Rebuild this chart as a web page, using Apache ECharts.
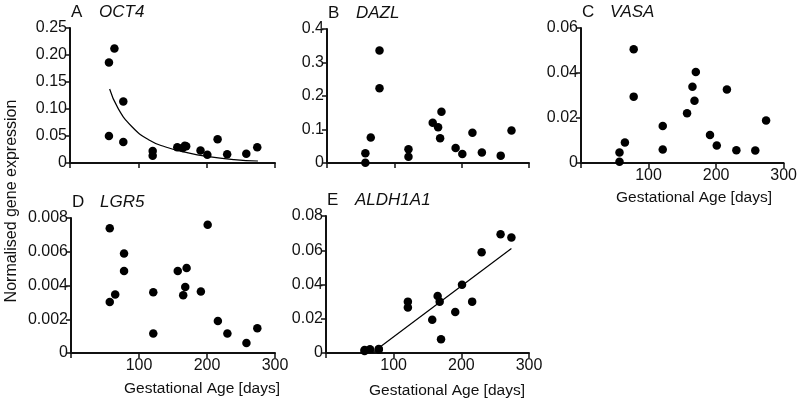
<!DOCTYPE html>
<html>
<head>
<meta charset="utf-8">
<script src="https://cdn.jsdelivr.net/npm/echarts@6/dist/echarts.min.js"></script>
<style>html,body{margin:0;padding:0;background:#fff;}#c{width:800px;height:402px;}</style>
</head>
<body>
<div id="c"></div>
<script>
// Gestational age (days) of the 17 samples
const ages = [57, 57, 65, 78, 78, 121, 121, 157, 165, 168, 170, 191, 201, 216, 230, 258, 274];
// Normalised gene expression per gene, aligned with ages
const oct4 = [0.186, 0.050, 0.212, 0.114, 0.039, 0.022, 0.0135, 0.029, 0.028, 0.032, 0.031, 0.023, 0.0154, 0.044, 0.016, 0.017, 0.029];
const dazl = [0.001, 0.029, 0.076, 0.336, 0.223, 0.041, 0.019, 0.120, 0.107, 0.074, 0.153, 0.045, 0.027, 0.090, 0.031, 0.022, 0.097];
const vasa = [0.0006, 0.0047, 0.0091, 0.0506, 0.0295, 0.0164, 0.0060, 0.0221, 0.0339, 0.0277, 0.0404, 0.0124, 0.0078, 0.0327, 0.0057, 0.0056, 0.0189];
const lgr5 = [0.00739, 0.00302, 0.00346, 0.00589, 0.00486, 0.00360, 0.00115, 0.00486, 0.00342, 0.00391, 0.00504, 0.00365, 0.00760, 0.00190, 0.00115, 0.00059, 0.00146];
const aldh1a1 = [0.0012, 0.0018, 0.0022, 0.0020, 0.0024, 0.0300, 0.0265, 0.0194, 0.0333, 0.0300, 0.0080, 0.0239, 0.0398, 0.0300, 0.0588, 0.0694, 0.0674];
// Fitted curves
const oct4FitX = [58, 70, 90, 115, 140, 170, 200, 240, 275];
const oct4FitY = [0.137, 0.102, 0.068, 0.043, 0.0296, 0.0196, 0.0123, 0.0062, 0.0037];
const aldhFitX = [68, 274];
const aldhFitY = [0, 0.061];
// Panels
const panelLetters = ['A', 'B', 'C', 'D', 'E'];
const geneNames = ['OCT4', 'DAZL', 'VASA', 'LGR5', 'ALDH1A1'];
const yMax = [0.25, 0.4, 0.06, 0.008, 0.08];
const yStep = [0.05, 0.1, 0.02, 0.002, 0.02];
const yDecimals = [2, 1, 2, 3, 2];
const xTicks = [0, 100, 200, 300];
const yTitle = 'Normalised gene expression';
const xTitle = 'Gestational Age [days]';

const values = [oct4, dazl, vasa, lgr5, aldh1a1];
const grids = [
  {left: 70, top: 28, width: 205, height: 135},
  {left: 327, top: 29, width: 202, height: 134},
  {left: 581, top: 28, width: 203, height: 135},
  {left: 71, top: 218, width: 204, height: 135},
  {left: 326, top: 216, width: 203, height: 137}
];
const FONT = '"Liberation Sans", Arial, sans-serif';
const INK = '#111';

const xAxes = [], yAxes = [], series = [], graphic = [];
grids.forEach((g, i) => {
  xAxes.push({
    gridIndex: i, type: 'value', min: xTicks[0], max: xTicks[xTicks.length - 1], interval: 100,
    splitLine: {show: false},
    axisLine: {lineStyle: {color: INK, width: 2}},
    axisTick: {show: true, length: 5, lineStyle: {color: INK, width: 1.5}},
    axisLabel: {show: i >= 2, color: INK, fontSize: 16, fontFamily: FONT, margin: 5,
      formatter: v => v === 0 ? '' : String(v)}
  });
  yAxes.push({
    gridIndex: i, type: 'value', min: 0, max: yMax[i], interval: yStep[i],
    splitLine: {show: false},
    axisLine: {show: true, lineStyle: {color: INK, width: 2}},
    axisTick: {show: true, length: 5, lineStyle: {color: INK, width: 1.5}},
    axisLabel: {color: INK, fontSize: 16, fontFamily: FONT, margin: 3,
      formatter: v => v === 0 ? '0' : v.toFixed(yDecimals[i])}
  });
  series.push({
    type: 'scatter', xAxisIndex: i, yAxisIndex: i, symbolSize: 8.5,
    itemStyle: {color: '#000', opacity: 1}, silent: true, z: 3,
    data: ages.map((a, k) => [a, values[i][k]])
  });
  graphic.push({type: 'text', x: g.left + 1, y: g.top - 16,
    style: {text: panelLetters[i], font: '17px ' + FONT, fill: INK, verticalAlign: 'middle'}});
  graphic.push({type: 'text', x: g.left + 29, y: g.top - 16,
    style: {text: geneNames[i], font: 'italic 17px ' + FONT, fill: INK, verticalAlign: 'middle'}});
});
series.push({
  type: 'line', xAxisIndex: 0, yAxisIndex: 0, smooth: true, symbol: 'none', silent: true,
  lineStyle: {color: '#000', width: 1.2}, z: 2,
  data: oct4FitX.map((x, k) => [x, oct4FitY[k]])
});
series.push({
  type: 'line', xAxisIndex: 4, yAxisIndex: 4, symbol: 'none', silent: true,
  lineStyle: {color: '#000', width: 1.2}, z: 2,
  data: aldhFitX.map((x, k) => [x, aldhFitY[k]])
});
// axis titles
[[694, 198], [202, 389], [447, 391]].forEach(p => {
  graphic.push({type: 'text', x: p[0], y: p[1],
    style: {text: xTitle, font: '15.5px ' + FONT, fill: INK, align: 'center', verticalAlign: 'middle'}});
});
graphic.push({type: 'text', x: 12, y: 201, rotation: Math.PI / 2,
  style: {text: yTitle, font: '16px ' + FONT, fill: INK, align: 'center', verticalAlign: 'middle'}});

const chart = echarts.init(document.getElementById('c'), null, {renderer: 'canvas'});
chart.setOption({
  animation: false,
  backgroundColor: '#fff',
  grid: grids.map(g => Object.assign({containLabel: false}, g)),
  xAxis: xAxes, yAxis: yAxes, series: series, graphic: graphic
});
</script>
</body>
</html>
